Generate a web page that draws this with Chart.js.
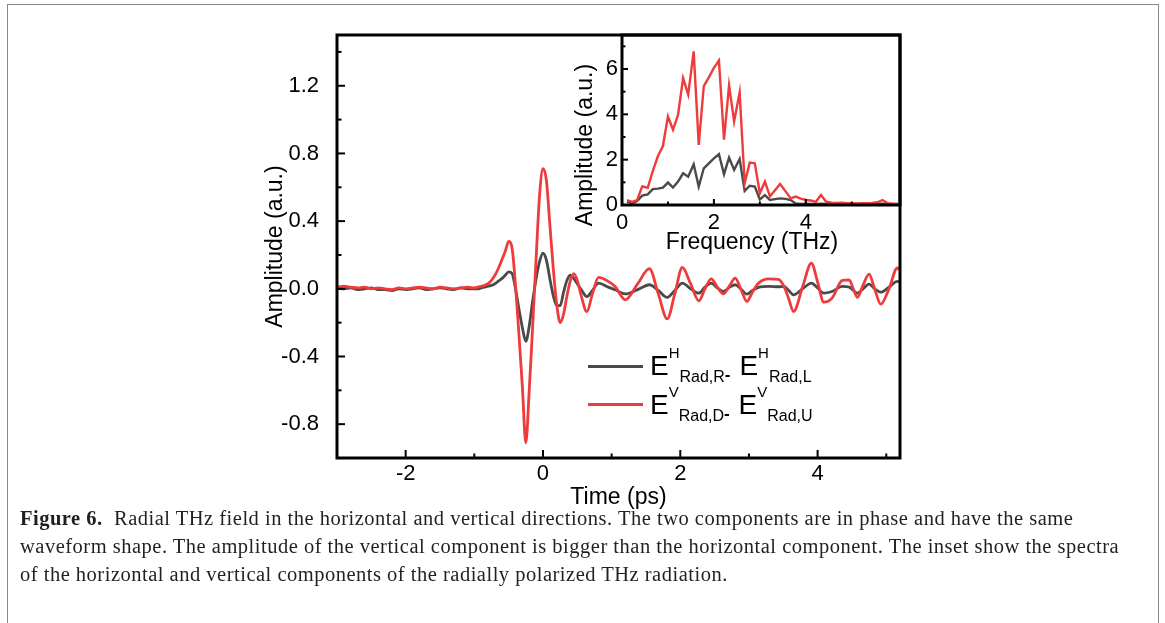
<!DOCTYPE html>
<html>
<head>
<meta charset="utf-8">
<script src="https://cdn.jsdelivr.net/npm/chart.js@4.4.1/dist/chart.umd.min.js"></script>
<style>
  body { margin: 0; background: #fff; width: 1165px; height: 623px; overflow: hidden; position: relative; }
  #frame { position: absolute; left: 7px; top: 4px; width: 1150px; height: 700px; border: 1px solid #8a8a8a; }
  canvas { position: absolute; left: 0; top: 0; }
  #caption { position: absolute; left: 20px; top: 504px; white-space: nowrap;
    font-family: "Liberation Serif", "Times New Roman", serif; font-size: 20.5px; letter-spacing: 0.5px;
    line-height: 28px; color: #231f20; }
</style>
</head>
<body>
<div id="frame"></div>
<canvas id="main" width="1165" height="515"></canvas>
<canvas id="inset" width="1165" height="515"></canvas>
<div id="caption"><b>Figure 6.</b>&nbsp; Radial THz field in the horizontal and vertical directions. The two components are in phase and have the same<br>waveform shape. The amplitude of the vertical component is bigger than the horizontal component. The inset show the spectra<br>of the horizontal and vertical components of the radially polarized THz radiation.</div>
<script>
// time axis (ps), shared by both waveforms
const timePs = [
  -3.0, -2.9, -2.8, -2.7, -2.6, -2.5, -2.4, -2.3, -2.2, -2.1, -2.0, -1.9, -1.8, -1.7, -1.6, -1.5, -1.4, -1.3, -1.2, -1.1, -1.0,
  -0.95, -0.9, -0.85, -0.8, -0.75, -0.7, -0.65, -0.6, -0.55, -0.5, -0.45, -0.4, -0.35, -0.3, -0.25, -0.2, -0.15, -0.1, -0.05,
  0, 0.05, 0.1, 0.15, 0.2, 0.25, 0.3, 0.35, 0.4, 0.45, 0.5,
  0.55, 0.64, 0.72, 0.81, 0.95, 1.05, 1.2, 1.38, 1.55, 1.68, 1.81, 1.92, 2.03, 2.15, 2.27, 2.36, 2.45, 2.54, 2.63, 2.72,
  2.8, 2.88, 2.97, 3.05, 3.14, 3.29, 3.43, 3.51, 3.58, 3.65, 3.78, 3.91, 4.0, 4.09, 4.21, 4.36, 4.46, 4.52, 4.58, 4.66,
  4.75, 4.83, 4.92, 5.04, 5.16, 5.2
];
// E(H,Rad,R) - E(H,Rad,L)
const horizontalField = [
  0.005, 0.000, 0.005, -0.005, 0.000, 0.005, -0.005, -0.005, -0.010, 0.000, -0.005, 0.000, 0.005, -0.005, 0.000, 0.005, 0.000, -0.005, 0.005, 0.000, 0.000,
  0.000, 0.005, 0.010, 0.015, 0.020, 0.030, 0.045, 0.060, 0.080, 0.100, 0.090, 0.000, -0.120, -0.230, -0.310, -0.220, -0.070, 0.060, 0.160,
  0.210, 0.170, 0.060, -0.040, -0.100, -0.100, -0.020, 0.050, 0.080, 0.060, 0.030,
  0.000, -0.046, -0.010, 0.034, 0.010, -0.006, -0.030, -0.005, 0.024, -0.010, -0.051, -0.010, 0.034, 0.000, -0.026, 0.010, 0.034, 0.005, -0.016, 0.010,
  0.024, 0.000, -0.032, -0.010, 0.008, 0.014, 0.012, 0.014, -0.010, -0.036, 0.000, 0.034, 0.005, -0.026, -0.016, 0.014, 0.010, -0.010, -0.026, 0.000,
  0.028, 0.000, -0.020, 0.010, 0.044, 0.040
];
// E(V,Rad,D) - E(V,Rad,U)
const verticalField = [
  0.010, 0.015, 0.010, 0.005, 0.010, 0.000, 0.005, 0.000, -0.005, 0.005, 0.000, 0.005, 0.010, 0.005, 0.000, 0.010, 0.005, 0.000, 0.005, 0.010, 0.005,
  0.010, 0.015, 0.020, 0.030, 0.050, 0.080, 0.120, 0.170, 0.220, 0.280, 0.240, 0.020, -0.270, -0.580, -0.910, -0.600, -0.220, 0.180, 0.550,
  0.710, 0.640, 0.380, 0.120, -0.090, -0.200, -0.150, -0.040, 0.050, 0.090, 0.050,
  -0.030, -0.135, -0.030, 0.067, 0.044, 0.014, -0.065, 0.030, 0.119, -0.030, -0.178, -0.030, 0.127, 0.030, -0.071, 0.000, 0.059, 0.010, -0.030, 0.020,
  0.063, 0.000, -0.075, -0.020, 0.034, 0.059, 0.055, 0.014, -0.060, -0.135, 0.010, 0.152, 0.040, -0.079, -0.055, 0.050, 0.053, 0.000, -0.051, 0.020,
  0.087, 0.000, -0.091, 0.000, 0.123, 0.110
];

// inset: spectra
const freqTHz = [
  0.11, 0.22, 0.33, 0.44, 0.56, 0.67, 0.78, 0.89, 1.00, 1.11, 1.22, 1.33, 1.44, 1.56, 1.67, 1.78, 1.89, 2.00,
  2.11, 2.22, 2.33, 2.44, 2.56, 2.67, 2.78, 2.89, 3.00, 3.11, 3.22, 3.33, 3.44, 3.56, 3.67, 3.78, 3.89, 4.00,
  4.11, 4.22, 4.33, 4.44, 4.56, 4.67, 4.78, 4.89, 5.00, 5.11, 5.22, 5.33, 5.44, 5.56, 5.67, 5.78, 5.89, 6.00
];
const horizontalSpectrum = [
  0.15, 0.07, 0.18, 0.41, 0.47, 0.70, 0.72, 0.77, 0.99, 0.77, 1.03, 1.40, 1.25, 1.80, 0.81, 1.62, 1.84, 2.06,
  2.24, 1.36, 2.09, 1.55, 2.03, 0.62, 0.85, 0.81, 0.24, 0.44, 0.22, 0.26, 0.29, 0.27, 0.22, 0.07, 0.05, 0.06,
  0.05, 0.05, 0.06, 0.05, 0.04, 0.05, 0.05, 0.06, 0.05, 0.05, 0.04, 0.05, 0.05, 0.05, 0.06, 0.05, 0.04, 0.04
];
const verticalSpectrum = [
  0.22, 0.14, 0.22, 0.82, 0.76, 1.50, 2.15, 2.60, 3.90, 3.32, 3.98, 5.60, 4.87, 6.78, 2.65, 5.24, 5.63, 6.05,
  6.37, 2.88, 5.28, 3.69, 4.96, 0.96, 1.87, 1.84, 0.52, 1.03, 0.38, 0.65, 0.93, 0.60, 0.29, 0.37, 0.28, 0.22,
  0.20, 0.14, 0.44, 0.15, 0.10, 0.09, 0.10, 0.08, 0.08, 0.07, 0.08, 0.08, 0.09, 0.12, 0.22, 0.08, 0.06, 0.06
];

// ticks
const timeTicks = [-2, 0, 2, 4];
const timeMinor = [-1, 1, 3, 5];
const ampTicks = [-0.8, -0.4, 0, 0.4, 0.8, 1.2];
const ampMinor = [-1.0, -0.6, -0.2, 0.2, 0.6, 1.0, 1.4];
const freqTicks = [0, 2, 4];
const freqMinor = [1, 3, 5];
const specTicks = [0, 2, 4, 6];
const specMinor = [1, 3, 5, 7];

// legend texts: [text, kind]
const legendLabels = [
  [['E', 'n'], ['H', 'sup'], ['Rad,R', 'sub'], ['-', 'dash'], ['  ', 'sub'], ['E', 'n'], ['H', 'sup'], ['Rad,L', 'sub']],
  [['E', 'n'], ['V', 'sup'], ['Rad,D', 'sub'], ['-', 'dash'], ['  ', 'sub'], ['E', 'n'], ['V', 'sup'], ['Rad,U', 'sub']]
];

const FONT = '"Liberation Sans", Arial, sans-serif';
const RED = '#ef3b3b';
const GRAY = '#4a4a4a';

function points(xs, ys) {
  return xs.map((x, i) => ({ x: x, y: ys[i] }));
}

// box around the plot area + inward ticks
const frameAndTicks = {
  id: 'frameAndTicks',
  afterDatasetsDraw(chart, args, opts) {
    const ctx = chart.ctx;
    const a = chart.chartArea;
    ctx.save();
    ctx.strokeStyle = '#000';
    function mark(scale, values, len) {
      values.forEach(v => {
        const p = scale.getPixelForValue(v);
        ctx.beginPath();
        if (scale.axis === 'x') {
          ctx.moveTo(p, a.bottom);
          ctx.lineTo(p, a.bottom - len);
        } else {
          ctx.moveTo(a.left, p);
          ctx.lineTo(a.left + len, p);
        }
        ctx.stroke();
      });
    }
    ctx.lineWidth = 2;
    mark(chart.scales.x, opts.xMajor, opts.majorLen);
    mark(chart.scales.x, opts.xMinor, opts.minorLen);
    mark(chart.scales.y, opts.yMajor, opts.majorLen);
    mark(chart.scales.y, opts.yMinor, opts.minorLen);
    ctx.lineWidth = 3;
    ctx.strokeRect(a.left, a.top, a.right - a.left, a.bottom - a.top);
    ctx.restore();
  }
};

// legend with sub/superscripts
const legendPlugin = {
  id: 'subLegend',
  afterDraw(chart) {
    const ctx = chart.ctx;
    const colors = [GRAY, RED];
    const lineY = [366.5, 404.5];
    const baseY = [375, 414];
    ctx.save();
    legendLabels.forEach((parts, r) => {
      ctx.strokeStyle = colors[r];
      ctx.lineWidth = 3;
      ctx.beginPath();
      ctx.moveTo(588, lineY[r]);
      ctx.lineTo(643, lineY[r]);
      ctx.stroke();
      let x = 650;
      ctx.fillStyle = '#000';
      ctx.textBaseline = 'alphabetic';
      ctx.textAlign = 'left';
      parts.forEach(([t, kind]) => {
        let dy = 0;
        if (kind === 'n') ctx.font = '28px ' + FONT;
        if (kind === 'sup') { ctx.font = '15px ' + FONT; dy = -17; }
        if (kind === 'sub') { ctx.font = '16px ' + FONT; dy = 7; }
        if (kind === 'dash') { ctx.font = 'bold 17px ' + FONT; dy = 5; }
        ctx.fillText(t, x, baseY[r] + dy);
        x += ctx.measureText(t).width;
      });
    });
    ctx.restore();
  }
};

// inset axis titles
const insetTitles = {
  id: 'insetTitles',
  afterDraw(chart) {
    const ctx = chart.ctx;
    ctx.save();
    ctx.fillStyle = '#000';
    ctx.font = '23px ' + FONT;
    ctx.textAlign = 'center';
    ctx.textBaseline = 'middle';
    ctx.fillText('Frequency (THz)', 752, 243);
    ctx.translate(585.5, 145);
    ctx.rotate(-Math.PI / 2);
    ctx.fillText('Amplitude (a.u.)', 0, 0);
    ctx.restore();
  }
};

new Chart(document.getElementById('main'), {
  type: 'line',
  data: {
    datasets: [
      { data: points(timePs, verticalField), borderColor: RED, borderWidth: 2.8, pointRadius: 0, cubicInterpolationMode: 'monotone' },
      { data: points(timePs, horizontalField), borderColor: GRAY, borderWidth: 2.8, pointRadius: 0, cubicInterpolationMode: 'monotone' }
    ]
  },
  options: {
    responsive: false,
    animation: false,
    events: [],
    layout: { padding: { left: 0, top: 35, right: 265, bottom: 0 } },
    plugins: {
      legend: { display: false },
      tooltip: { enabled: false },
      frameAndTicks: { xMajor: timeTicks, xMinor: timeMinor, yMajor: ampTicks, yMinor: ampMinor, majorLen: 8, minorLen: 4.5 }
    },
    scales: {
      x: {
        type: 'linear', min: -3, max: 5.2,
        afterFit(s) { s.height = 57; },
        afterBuildTicks(s) { s.ticks = timeTicks.map(v => ({ value: v })); },
        grid: { display: false, drawTicks: false },
        border: { display: false },
        ticks: { color: '#000', font: { size: 22, family: FONT }, padding: 3, maxRotation: 0, autoSkip: false, callback: v => String(v) },
        title: { display: true, text: 'Time (ps)', color: '#000', font: { size: 23, family: FONT }, padding: { top: 0, bottom: 4 } }
      },
      y: {
        min: -1.0, max: 1.5,
        afterFit(s) { s.width = 337; },
        afterBuildTicks(s) { s.ticks = ampTicks.map(v => ({ value: v })); },
        grid: { display: false, drawTicks: false },
        border: { display: false },
        ticks: { color: '#000', font: { size: 22, family: FONT }, padding: 18, autoSkip: false, callback: v => v.toFixed(1) },
        title: { display: true, text: 'Amplitude (a.u.)', color: '#000', font: { size: 23, family: FONT }, padding: { top: 262, bottom: 0 } }
      }
    }
  },
  plugins: [frameAndTicks, legendPlugin]
});

new Chart(document.getElementById('inset'), {
  type: 'line',
  data: {
    datasets: [
      { data: points(freqTHz, verticalSpectrum), borderColor: RED, borderWidth: 2.4, pointRadius: 0, tension: 0 },
      { data: points(freqTHz, horizontalSpectrum), borderColor: GRAY, borderWidth: 2.4, pointRadius: 0, tension: 0 }
    ]
  },
  options: {
    responsive: false,
    animation: false,
    events: [],
    layout: { padding: { left: 0, top: 35, right: 265, bottom: 0 } },
    plugins: {
      legend: { display: false },
      tooltip: { enabled: false },
      frameAndTicks: { xMajor: freqTicks, xMinor: freqMinor, yMajor: specTicks, yMinor: specMinor, majorLen: 6, minorLen: 3.5 }
    },
    scales: {
      x: {
        type: 'linear', min: 0, max: 6.05,
        afterFit(s) { s.height = 310; },
        afterBuildTicks(s) { s.ticks = freqTicks.map(v => ({ value: v })); },
        grid: { display: false, drawTicks: false },
        border: { display: false },
        ticks: { color: '#000', font: { size: 22, family: FONT }, padding: 5, maxRotation: 0, autoSkip: false, callback: v => String(v) }
      },
      y: {
        min: 0, max: 7.5,
        afterFit(s) { s.width = 622; },
        afterBuildTicks(s) { s.ticks = specTicks.map(v => ({ value: v })); },
        grid: { display: false, drawTicks: false },
        border: { display: false },
        ticks: { color: '#000', font: { size: 22, family: FONT }, padding: 4, autoSkip: false, callback: v => String(v) }
      }
    }
  },
  plugins: [frameAndTicks, insetTitles]
});
</script>
</body>
</html>
